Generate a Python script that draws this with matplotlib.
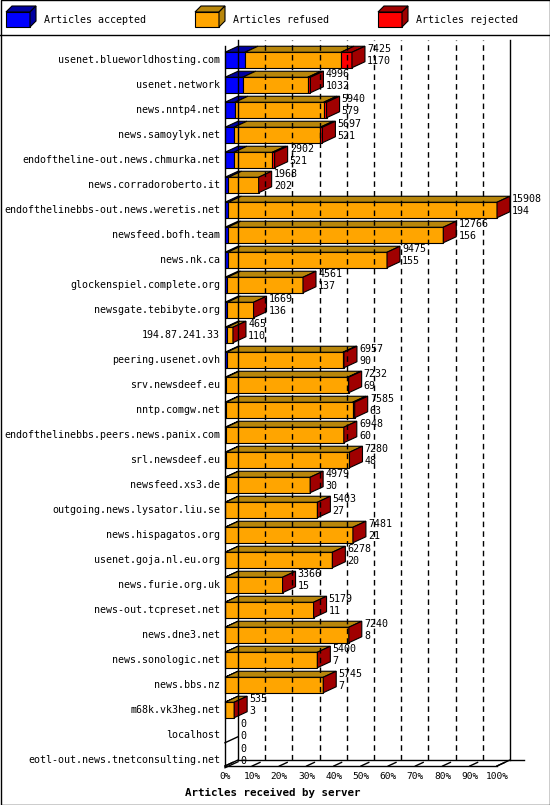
import matplotlib
matplotlib.use("Agg")
import matplotlib.pyplot as plt
from matplotlib.patches import Polygon, Rectangle

servers = ["usenet.blueworldhosting.com","usenet.network","news.nntp4.net","news.samoylyk.net",
"endoftheline-out.news.chmurka.net","news.corradoroberto.it","endofthelinebbs-out.news.weretis.net",
"newsfeed.bofh.team","news.nk.ca","glockenspiel.complete.org","newsgate.tebibyte.org","194.87.241.33",
"peering.usenet.ovh","srv.newsdeef.eu","nntp.comgw.net","endofthelinebbs.peers.news.panix.com",
"srl.newsdeef.eu","newsfeed.xs3.de","outgoing.news.lysator.liu.se","news.hispagatos.org",
"usenet.goja.nl.eu.org","news.furie.org.uk","news-out.tcpreset.net","news.dne3.net",
"news.sonologic.net","news.bbs.nz","m68k.vk3heg.net","localhost","eotl-out.news.tnetconsulting.net"]
total = [7425,4996,5940,5697,2902,1968,15908,12766,9475,4561,1669,465,6957,7232,7585,6948,7280,4979,
         5403,7481,6278,3366,5179,7240,5400,5745,535,0,0]
accepted = [1170,1032,579,521,521,202,194,156,155,137,136,110,90,69,63,60,48,30,27,21,20,15,11,8,7,7,3,0,0]
rejected = [640,150,170,130,130,0,0,0,0,0,0,0,60,60,120,0,0,0,0,0,0,0,0,0,0,0,0,0,0]
legend_labels = ["Articles accepted","Articles refused","Articles rejected"]
ticks = [0,10,20,30,40,50,60,70,80,90,100]

cols = ["#0000ff","#ffa500","#ff0000"]
tops = ["#0000a0","#b8860b","#a00000"]
mono = "DejaVu Sans Mono"
fs = 7.2

W, H = 550, 805
fig = plt.figure(figsize=(W/100, H/100), dpi=100)
bg = fig.add_axes([0, 0, 1, 1]); bg.set_xlim(0, W); bg.set_ylim(H, 0); bg.axis("off")
bg.add_patch(Rectangle((0.5, 0.5), W-1, H-1, fill=False, lw=1, ec="black"))
bg.plot([0, W], [35, 35], color="black", lw=1)
for i, (lx, lab) in enumerate(zip([6, 195, 378], legend_labels)):
    bg.add_patch(Polygon([(lx, 27), (lx+24, 27), (lx+24, 12), (lx, 12)], fc=cols[i], ec="black", lw=0.8))
    bg.add_patch(Polygon([(lx, 12), (lx+6, 6), (lx+30, 6), (lx+24, 12)], fc=tops[i], ec="black", lw=0.8))
    bg.add_patch(Polygon([(lx+24, 12), (lx+30, 6), (lx+30, 21), (lx+24, 27)], fc=tops[i], ec="black", lw=0.8))
    bg.text(lx+38, 20, lab, family=mono, fontsize=fs, va="center")
bg.text(273, 793, "Articles received by server", family=mono, fontsize=fs+0.6, weight="bold",
        ha="center", va="center")

n = len(servers)
x0p, x1p = 225, 497
ytop, ybot = 35, 775
ax = fig.add_axes([x0p/W, 1-ybot/H, (x1p-x0p)/W, (ybot-ytop)/H])
ax.set_xlim(0, 100)
ax.set_ylim((ybot-60)/25, (ytop-60)/25)
ax.axis("off")
dx = 13/2.72
dy = 6/25
yfloor = (766-60)/25
ytopw = (40-60)/25
kw = dict(clip_on=False)
for t in ticks[1:]:
    ax.plot([t+dx, t+dx], [yfloor-dy, ytopw], color="black", lw=1,
            ls="-" if t == 100 else (0, (4, 3)), **kw)
ax.plot([dx, dx], [yfloor-dy, ytopw], color="black", lw=1, **kw)
ax.plot([0, 0], [yfloor, ytopw+dy], color="black", lw=1, **kw)
ax.plot([0, 100], [yfloor, yfloor], color="black", lw=1, **kw)
ax.plot([0, dx], [yfloor, yfloor-dy], color="black", lw=1, **kw)
ax.plot([dx, 100+dx+5], [yfloor-dy, yfloor-dy], color="black", lw=1, **kw)
ax.plot([100, 100+dx], [yfloor, yfloor-dy], color="black", lw=1, **kw)
for t in ticks:
    ax.plot([t, t+dx*0.6], [yfloor, yfloor-dy*0.6], color="black", lw=1, **kw)
    ax.text(t, yfloor+0.42, f"{t}%", family=mono, fontsize=fs-0.4, ha="center", va="center", **kw)

mx = max(total)
h = 0.31
for i in range(n):
    a = accepted[i]; r = rejected[i]; f = total[i]-a-r
    segs = [a, f, r]
    ax.text(-1.8, i, servers[i], family=mono, fontsize=fs, ha="right", va="center", **kw)
    start = 0.0
    for k, v in enumerate(segs):
        w = v/mx*100
        if w > 0:
            ax.add_patch(Rectangle((start, i-h), w, 2*h, fc=cols[k], ec="black", lw=0.8, **kw))
            ax.add_patch(Polygon([(start, i-h), (start+dx, i-h-dy), (start+w+dx, i-h-dy), (start+w, i-h)],
                                 fc=tops[k], ec="black", lw=0.8, **kw))
        start += w
    if total[i] > 0:
        ax.add_patch(Polygon([(start, i-h), (start+dx, i-h-dy), (start+dx, i+h-dy), (start, i+h)],
                             fc=tops[2], ec="black", lw=0.8, **kw))
    else:
        ax.plot([0, dx], [i+h, i+h-dy], color="black", lw=1, **kw)
    ex = start + dx + 0.8
    ax.text(ex, i-0.45, str(total[i]), family=mono, fontsize=fs, va="center", **kw)
    ax.text(ex, i+0.05, str(accepted[i]), family=mono, fontsize=fs, va="center", **kw)

fig.savefig("out.png", dpi=100)
